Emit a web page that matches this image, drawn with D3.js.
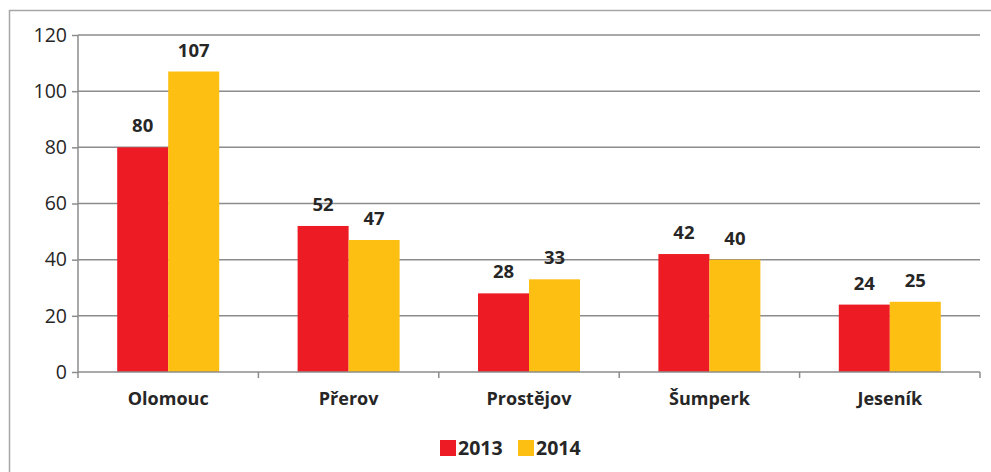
<!DOCTYPE html>
<html>
<head>
<meta charset="utf-8">
<script src="https://cdn.jsdelivr.net/npm/d3@7"></script>
<style>
  body { margin: 0; background: #fff; }
  svg text { font-family: "Open Sans", "Noto Sans", sans-serif; fill: #262626; }
</style>
</head>
<body>
<svg id="chart"></svg>
<script>
const categories = ["Olomouc", "Přerov", "Prostějov", "Šumperk", "Jeseník"];
const seriesNames = ["2013", "2014"];
const values2013 = [80, 52, 28, 42, 24];
const values2014 = [107, 47, 33, 40, 25];
const yTicks = [0, 20, 40, 60, 80, 100, 120];

const width = 991, height = 472;
const margin = { top: 35, right: 11, bottom: 100, left: 78 };
const innerW = width - margin.left - margin.right;
const innerH = height - margin.top - margin.bottom;

const svg = d3.select("#chart").attr("width", width).attr("height", height);

// outer frame (runs off the right and bottom)
svg.append("rect")
    .attr("x", 9.5).attr("y", 10.5)
    .attr("width", 1000).attr("height", 500)
    .attr("fill", "none").attr("stroke", "#a6a6a6").attr("stroke-width", 1.5);

const g = svg.append("g").attr("transform", `translate(${margin.left},${margin.top})`);

const x = d3.scaleBand().domain(categories).range([0, innerW]);
const y = d3.scaleLinear().domain([0, 120]).range([innerH, 0]);
const color = d3.scaleOrdinal().domain(seriesNames).range(["#ed1c24", "#fdbf12"]);

// gridlines
g.append("g").selectAll("line")
    .data(yTicks.slice(1))
    .join("line")
    .attr("x1", 0).attr("x2", innerW)
    .attr("y1", d => y(d)).attr("y2", d => y(d))
    .attr("stroke", "#8c8c8c").attr("stroke-width", 1.5);

const barW = 51;
const data = categories.map((c, i) => ({ cat: c, vals: [values2013[i], values2014[i]] }));

const groups = g.selectAll(".barGroup")
    .data(data)
    .join("g")
    .attr("class", "barGroup")
    .attr("transform", d => `translate(${x(d.cat) + x.bandwidth() / 2 - barW}, 0)`);

groups.selectAll("rect")
    .data(d => d.vals.map((v, j) => ({ v, s: seriesNames[j], j })))
    .join("rect")
    .attr("x", d => d.j * barW)
    .attr("y", d => y(d.v))
    .attr("width", barW)
    .attr("height", d => innerH - y(d.v))
    .attr("fill", d => color(d.s));

groups.selectAll("text")
    .data(d => d.vals.map((v, j) => ({ v, j })))
    .join("text")
    .attr("x", d => d.j * barW + barW / 2)
    .attr("y", d => y(d.v) - 15)
    .attr("text-anchor", "middle")
    .style("font-size", "18.5px")
    .style("font-weight", "bold")
    .text(d => d.v);

// y axis
const yAxis = g.append("g")
    .call(d3.axisLeft(y).tickValues(yTicks).tickSize(6).tickPadding(5));
yAxis.select(".domain").attr("stroke", "#8c8c8c").attr("stroke-width", 1.5).attr("d", `M0,${innerH}V0`);
yAxis.selectAll(".tick line").attr("stroke", "#8c8c8c").attr("stroke-width", 1.5);
yAxis.selectAll(".tick text").style("font-size", "19.5px").style("font-family", "'Open Sans', sans-serif").attr("fill", "#262626");

// x axis
const xAxis = g.append("g").attr("transform", `translate(0,${innerH})`)
    .call(d3.axisBottom(x).tickSize(0).tickPadding(20));
xAxis.select(".domain").attr("stroke", "#8c8c8c").attr("stroke-width", 1.5).attr("d", `M0,0H${innerW}`);
xAxis.selectAll(".tick text").style("font-size", "18px").style("font-weight", "bold")
    .style("font-family", "'Open Sans', sans-serif").attr("fill", "#262626");

// category separators
g.append("g").selectAll("line")
    .data(d3.range(categories.length + 1))
    .join("line")
    .attr("x1", i => i * x.step()).attr("x2", i => i * x.step())
    .attr("y1", innerH).attr("y2", innerH + 6)
    .attr("stroke", "#8c8c8c").attr("stroke-width", 1.5);

// legend
const legend = svg.append("g").attr("transform", "translate(440,440)");
const items = legend.selectAll("g")
    .data(seriesNames)
    .join("g")
    .attr("transform", (d, i) => `translate(${i * 78},0)`);
items.append("rect").attr("width", 16).attr("height", 16).attr("fill", d => color(d));
items.append("text").attr("x", 18).attr("y", 15)
    .style("font-size", "19.5px").style("font-weight", "bold").text(d => d);
</script>
</body>
</html>
